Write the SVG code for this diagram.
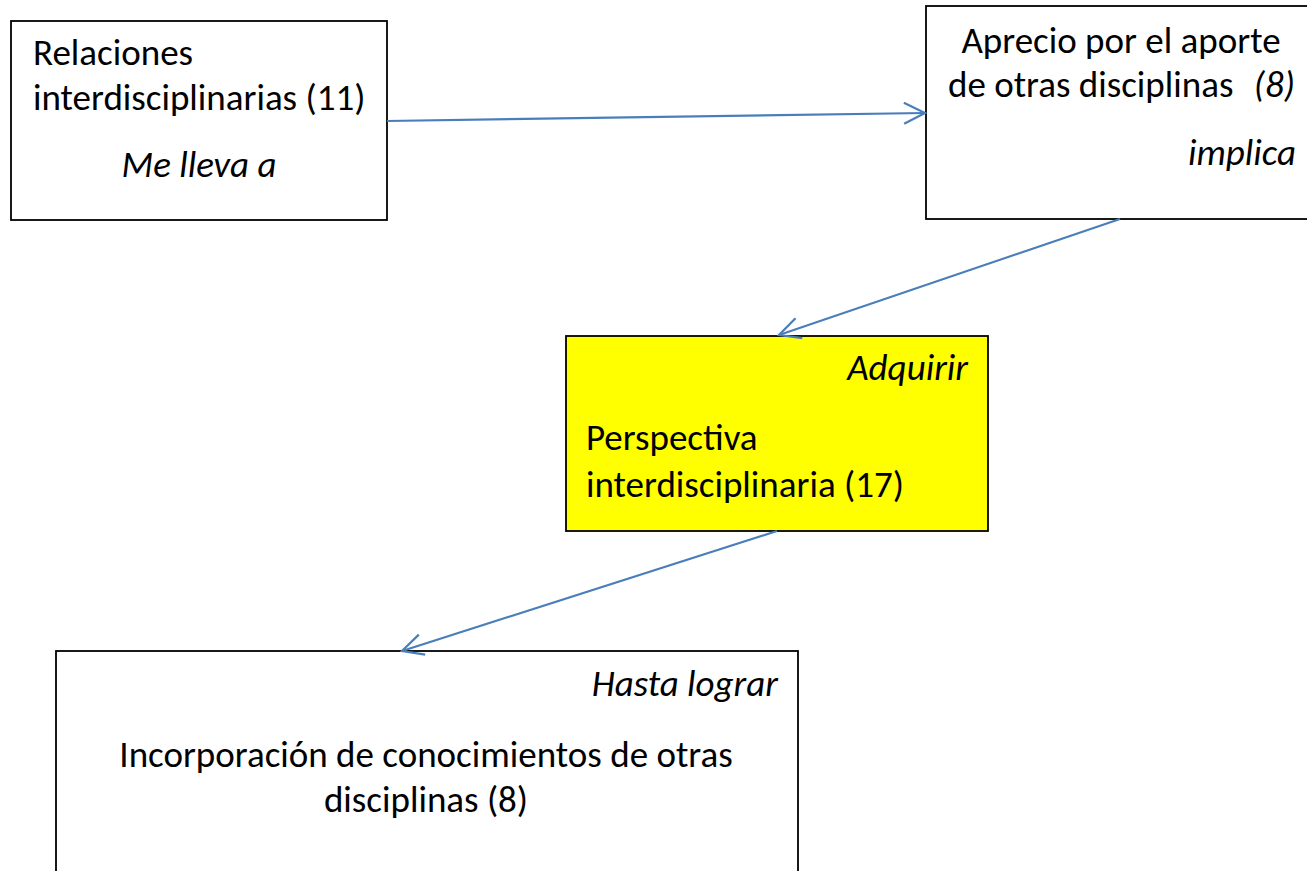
<svg xmlns="http://www.w3.org/2000/svg" width="1307" height="871" viewBox="0 0 1307 871">
<style>
.box{fill:#ffffff;stroke:#000000;stroke-width:1.8}
.yellow{fill:#ffff00}
.t{font-family:Carlito,Calibri,Lato,"Liberation Sans",sans-serif;font-size:37px;fill:#000000}
.i{font-style:italic}
.conn{fill:none;stroke:#4a7ebb;stroke-width:2.2;marker-end:url(#arr)}
</style>
<defs>
<marker id="arr" markerUnits="userSpaceOnUse" markerWidth="26" markerHeight="26" viewBox="0 0 26 26" refX="23" refY="13" orient="auto">
<path d="M2,2.5 L23,13 L2,23.5" fill="none" stroke="#4a7ebb" stroke-width="2.2"/>
</marker>
</defs>
<rect width="1307" height="871" fill="#ffffff"/>
<g id="n1">
<rect class="box" x="11" y="21" width="376" height="199"/>
<text class="t" x="33" y="65">Relaciones</text>
<text class="t" x="33" y="110">interdisciplinarias (11)</text>
<text class="t i" x="199" y="177" text-anchor="middle">Me lleva a</text>
</g>
<g id="n2">
<rect class="box" x="926" y="6" width="400" height="213"/>
<text class="t" x="1121" y="53" text-anchor="middle">Aprecio por el aporte</text>
<text class="t" x="948" y="97">de otras disciplinas</text>
<text class="t i" x="1295" y="97" text-anchor="end">(8)</text>
<text class="t i" x="1296" y="165" text-anchor="end">implica</text>
</g>
<g id="n3">
<rect class="box yellow" x="566" y="336" width="422" height="195"/>
<text class="t i" x="968" y="380" text-anchor="end">Adquirir</text>
<text class="t" x="586" y="450">Perspectiva</text>
<text class="t" x="586" y="497">interdisciplinaria (17)</text>
</g>
<g id="n4">
<rect class="box" x="56" y="651" width="742" height="240"/>
<text class="t i" x="778" y="696" text-anchor="end">Hasta lograr</text>
<text class="t" x="426" y="767" text-anchor="middle">Incorporación de conocimientos de otras</text>
<text class="t" x="426" y="812" text-anchor="middle">disciplinas (8)</text>
</g>
<g id="connectors">
<line class="conn" x1="387" y1="121" x2="925" y2="113"/>
<line class="conn" x1="1120" y1="219" x2="779" y2="335"/>
<line class="conn" x1="777" y1="531" x2="402" y2="651"/>
</g>
</svg>
